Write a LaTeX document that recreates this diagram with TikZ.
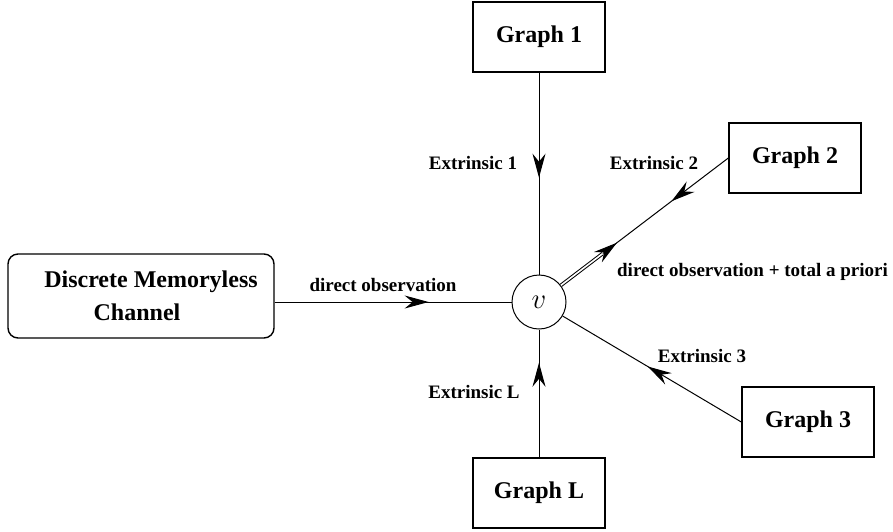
\documentclass[tikz,border=0pt]{standalone}
\usepackage{fontspec}
\setmainfont{Liberation Serif}
\usetikzlibrary{arrows.meta, decorations.markings}

\begin{document}
\begin{tikzpicture}[x=0.5pt, y=-0.5pt, line width=0.5pt,
    graphbox/.style={draw, line width=0.7pt, minimum width=66pt, minimum height=35pt, font=\fontsize{12}{14}\selectfont\bfseries},
    lbl/.style={font=\fontsize{9.5}{11}\selectfont\bfseries},
    tip/.style={-{Stealth[length=12pt, width=6.5pt, inset=4pt]}},
    midarrow/.style={postaction={decorate}, decoration={markings, mark=at position #1 with {\arrow{Stealth[length=12pt, width=6.5pt, inset=4pt]}}}}]
    \useasboundingbox (0,0) rectangle (893,531);

    % Variable node and graphs
    \node[circle, draw, minimum size=27pt, inner sep=0pt, font=\fontsize{15}{16}\selectfont] (v) at (539,302) {$v$};
    \node[graphbox] (g1) at (539,37) {Graph 1};
    \node[graphbox] (g2) at (795,158) {Graph 2};
    \node[graphbox] (g3) at (808,422) {Graph 3};
    \node[graphbox] (gL) at (539,493) {Graph L};

    % Channel
    \node[draw, rounded corners=5pt, line width=0.7pt, minimum width=133pt, minimum height=42pt, align=center, font=\fontsize{12}{16.5}\selectfont\bfseries] (dmc) at (141,296) {\hspace*{10pt}Discrete Memoryless\\Channel\hspace*{4pt}};

    % Messages into v
    \draw[midarrow=0.65] (dmc.east |- v) -- (v);
    \draw[midarrow=0.52] (g1) -- (v);
    \draw[midarrow=0.74] (gL) -- (v);
    \draw[midarrow=0.34] (g2.west) -- (v);
    \draw[midarrow=0.525] (g3.west) -- (v);

    % Outgoing message
    \path (v) -- (g2.west) coordinate[pos=0.335] (dtip);
    \draw[double, double distance=0.8pt, shorten >=9pt] (v) -- (dtip);
    \draw[tip, shorten <=28pt] (v) -- (dtip);

    % Labels
    \node[lbl] (e1) at (473,163) {Extrinsic 1};
    \node[lbl] (e2) at (654,163) {Extrinsic 2};
    \node[lbl] (e3) at (702,356) {Extrinsic 3};
    \node[lbl] (eL) at (474,392) {Extrinsic L};
    \node[lbl] (dobs) at (383,285) {direct observation};
    \node[lbl, anchor=west] (dtot) at (610,272) {direct observation + total a priori};
\end{tikzpicture}
\end{document}
